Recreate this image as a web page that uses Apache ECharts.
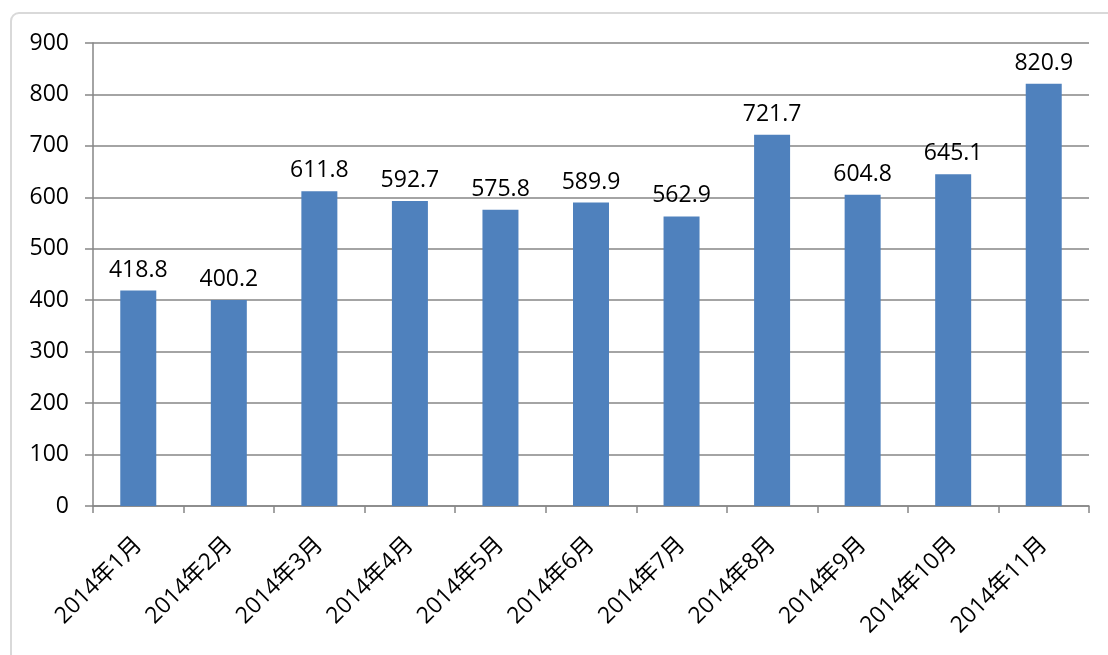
<!DOCTYPE html>
<html><head><meta charset="utf-8">
<script src="https://cdn.jsdelivr.net/npm/echarts@6/dist/echarts.min.js"></script>
<style>html,body{margin:0;padding:0;background:#fff}#c{width:1108px;height:655px}</style>
</head><body><div id="c"></div>
<script>
const categories = ['2014年1月','2014年2月','2014年3月','2014年4月','2014年5月','2014年6月','2014年7月','2014年8月','2014年9月','2014年10月','2014年11月'];
const values = [418.8, 400.2, 611.8, 592.7, 575.8, 589.9, 562.9, 721.7, 604.8, 645.1, 820.9];
const yTicks = [0, 100, 200, 300, 400, 500, 600, 700, 800, 900];

const font = '"Open Sans","Noto Sans CJK SC",sans-serif';
const chart = echarts.init(document.getElementById('c'));
chart.setOption({
  animation: false,
  backgroundColor: '#fff',
  graphic: [{
    type: 'rect', shape: {x: 11, y: 13, width: 1110, height: 660, r: 8},
    style: {fill: 'none', stroke: '#d9d9d9', lineWidth: 2}, silent: true, z: -1
  }],
  grid: {left: 93, right: 19, top: 43, bottom: 149, containLabel: false},
  xAxis: {
    type: 'category', data: categories,
    axisLine: {lineStyle: {color: '#868686', width: 1.5}},
    axisTick: {show: true, length: 7, alignWithLabel: false, lineStyle: {color: '#868686', width: 1.5}},
    axisLabel: {rotate: 45, color: '#000', fontSize: 23, fontFamily: font, margin: 35, interval: 0}
  },
  yAxis: {
    type: 'value', min: yTicks[0], max: yTicks[yTicks.length-1], interval: 100,
    axisLine: {show: true, lineStyle: {color: '#868686', width: 1.5}},
    axisTick: {show: true, length: 8, lineStyle: {color: '#868686', width: 1.5}},
    splitLine: {lineStyle: {color: '#868686', width: 1.5}},
    axisLabel: {color: '#000', fontSize: 23, fontFamily: font, margin: 24}
  },
  series: [{
    type: 'bar', data: values, barWidth: 36,
    itemStyle: {color: '#4F81BD'},
    label: {show: true, position: 'top', distance: 9, color: '#000', fontSize: 23, fontFamily: font,
      formatter: p => p.value.toFixed(1)}
  }]
});
</script></body></html>
